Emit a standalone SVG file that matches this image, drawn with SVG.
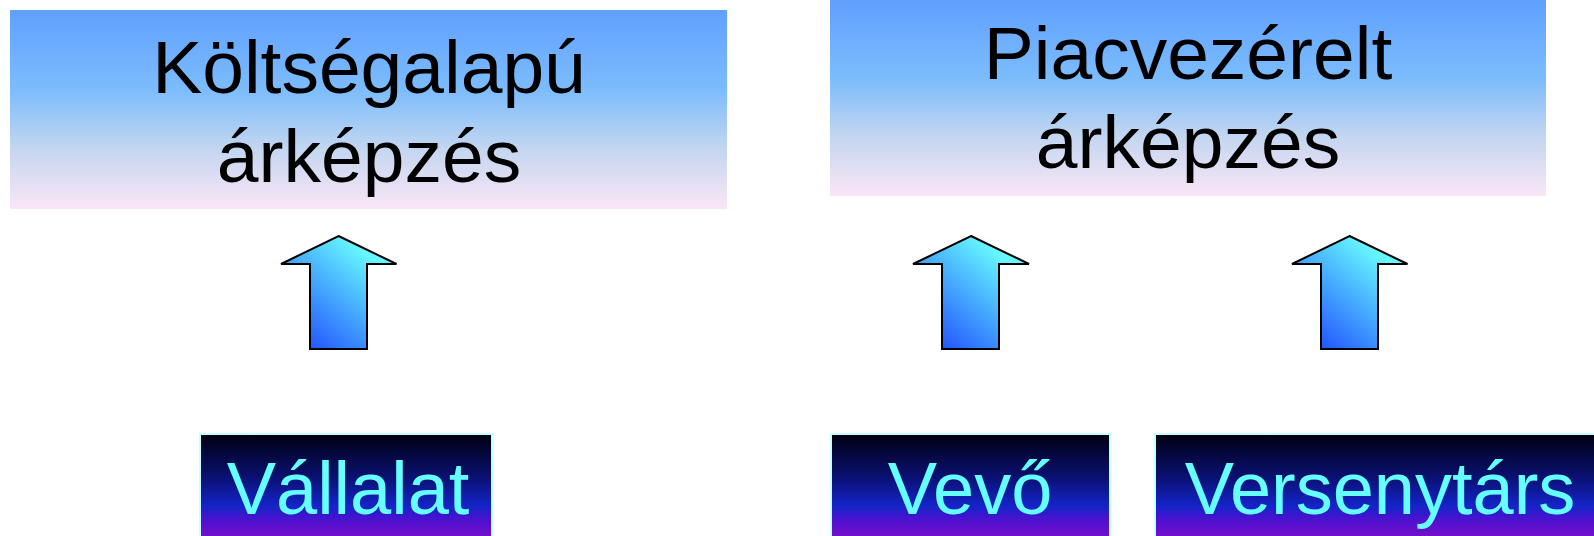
<svg xmlns="http://www.w3.org/2000/svg" width="1594" height="536" viewBox="0 0 1594 536">
<style>
.top{font-family:"Liberation Sans",Arial,sans-serif;font-size:75px;fill:#000;text-anchor:middle}
.bot{font-family:"Liberation Sans",Arial,sans-serif;font-size:74px;fill:#66ffff;text-anchor:middle}
.arrow{fill:url(#ag);stroke:#000;stroke-width:2;stroke-linejoin:miter}
.bbox{fill:url(#bg);stroke:#c8ffff;stroke-width:2}
.tbox{fill:url(#tg)}
</style>
<defs>
<linearGradient id="tg" x1="0" y1="0" x2="0" y2="1">
<stop offset="0" stop-color="#60a0ff"/>
<stop offset="0.4" stop-color="#7cbcfc"/>
<stop offset="0.7" stop-color="#c4d6f0"/>
<stop offset="1" stop-color="#fae6f6"/>
</linearGradient>
<linearGradient id="bg" x1="0" y1="0" x2="0" y2="1">
<stop offset="0" stop-color="#000010"/>
<stop offset="0.4" stop-color="#0a1070"/>
<stop offset="0.68" stop-color="#1424c8"/>
<stop offset="0.82" stop-color="#5010d0"/>
<stop offset="1" stop-color="#7a10c8"/>
</linearGradient>
<linearGradient id="ag" x1="0.1" y1="1" x2="0.8" y2="0.2">
<stop offset="0" stop-color="#1c44ff"/>
<stop offset="1" stop-color="#66f8ff"/>
</linearGradient>
</defs>
<rect width="1594" height="536" fill="#fff"/>
<g id="koltseg">
<rect class="tbox" x="10" y="10" width="717" height="199"/>
<text class="top" x="369" y="93">Költségalapú</text>
<text class="top" x="369" y="182">árképzés</text>
</g>
<g id="piac">
<rect class="tbox" x="830" y="0" width="716" height="196"/>
<text class="top" x="1188" y="79">Piacvezérelt</text>
<text class="top" x="1188" y="168">árképzés</text>
</g>
<g id="vallalat">
<rect class="bbox" x="200" y="434" width="292" height="106"/>
<text class="bot" x="348" y="514">Vállalat</text>
</g>
<g id="vevo">
<rect class="bbox" x="831" y="434" width="279" height="106"/>
<text class="bot" x="970" y="514">Vevő</text>
</g>
<g id="versenytars">
<rect class="bbox" x="1155" y="434" width="445" height="106"/>
<text class="bot" x="1380" y="514">Versenytárs</text>
</g>
<g id="connectors">
<polygon class="arrow" points="338.5,236 396.5,264 367,264 367,349 310,349 310,264 281,264"/>
<polygon class="arrow" points="971,236 1029,264 999,264 999,349 942,349 942,264 913,264"/>
<polygon class="arrow" points="1349.5,236 1407.5,264 1378,264 1378,349 1321,349 1321,264 1292,264"/>
</g>
</svg>
